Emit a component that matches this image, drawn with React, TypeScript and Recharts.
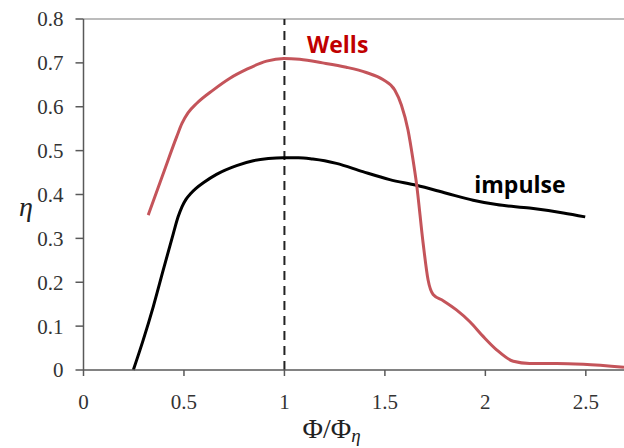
import React from 'react';
import { LineChart, Line, XAxis, YAxis, ReferenceLine, ReferenceDot } from 'recharts';

const xTicks = [0, 0.5, 1, 1.5, 2, 2.5];
const yTicks = [0, 0.1, 0.2, 0.3, 0.4, 0.5, 0.6, 0.7, 0.8];

const wellsPhi = [0.322, 0.397, 0.464, 0.49, 0.52, 0.564, 0.645, 0.729, 0.811, 0.911, 0.997, 1.076, 1.19, 1.308, 1.407, 1.49, 1.549, 1.582, 1.615, 1.64, 1.657, 1.69, 1.715, 1.74, 1.79, 1.856, 1.923, 1.99, 2.056, 2.139, 2.22, 2.355, 2.488, 2.69];
const wellsEta = [0.353, 0.448, 0.532, 0.562, 0.586, 0.608, 0.638, 0.665, 0.685, 0.704, 0.71, 0.708, 0.7, 0.69, 0.678, 0.662, 0.638, 0.604, 0.547, 0.479, 0.426, 0.29, 0.205, 0.172, 0.158, 0.137, 0.11, 0.076, 0.046, 0.02, 0.015, 0.015, 0.013, 0.006];

const impulsePhi = [0.248, 0.297, 0.347, 0.397, 0.447, 0.47, 0.49, 0.51, 0.535, 0.56, 0.6, 0.662, 0.762, 0.845, 0.92, 0.994, 1.07, 1.141, 1.2, 1.259, 1.39, 1.524, 1.657, 1.806, 1.939, 2.056, 2.22, 2.388, 2.497];
const impulseEta = [0.0, 0.068, 0.144, 0.228, 0.311, 0.348, 0.372, 0.389, 0.403, 0.414, 0.428, 0.446, 0.466, 0.477, 0.482, 0.484, 0.484, 0.481, 0.477, 0.471, 0.452, 0.434, 0.421, 0.403, 0.387, 0.377, 0.369, 0.358, 0.349];

const wellsData = wellsPhi.map((x, i) => ({ x, y: wellsEta[i] }));
const impulseData = impulsePhi.map((x, i) => ({ x, y: impulseEta[i] }));

const serif = '"Liberation Serif", "Times New Roman", serif';
const sans = '"Open Sans", "Liberation Sans", sans-serif';

const XTitle = (props: any) => {
  const vb = props.viewBox || {};
  const x0 = vb.x + 219;
  const yb = vb.y + 68;
  return (
    <text x={x0} y={yb} fontFamily={serif} fontSize={28} fill="#222">
      <tspan>Φ/Φ</tspan>
      <tspan fontStyle="italic" fontSize={19} dy={4}>η</tspan>
    </text>
  );
};

const YTitle = () => (
  <text x={19} y={216} fontFamily={serif} fontSize={28} fontStyle="italic" fill="#222">η</text>
);

const makeText = (txt: string, color: string) => (props: any) => {
  const vb = props.viewBox || {};
  return (
    <text x={vb.x} y={vb.y} textAnchor="middle" fontFamily={sans} fontWeight="bold" fontSize={23} fill={color}>
      {txt}
    </text>
  );
};

const tickStyle = { fontFamily: serif, fontSize: 21, fill: '#333' };

export default function App() {
  return (
    <div style={{ position: 'absolute', left: 0, top: 0 }}>
      <LineChart width={624} height={448} margin={{ top: 19, right: 0, bottom: 0, left: 0 }}>
        <XAxis
          type="number"
          dataKey="x"
          domain={[0, 2.69]}
          ticks={xTicks}
          allowDataOverflow
          height={78}
          tickSize={6}
          tickMargin={18}
          stroke="#595959"
          strokeWidth={1.5}
          tick={tickStyle}
          label={{ content: XTitle }}
        />
        <YAxis
          type="number"
          dataKey="y"
          domain={[0, 0.8]}
          ticks={yTicks}
          width={83.5}
          tickSize={8}
          tickMargin={12}
          stroke="#595959"
          strokeWidth={1.5}
          tick={tickStyle}
          label={{ content: YTitle }}
        />
        <ReferenceLine y={0.8} stroke="#a6a6a6" strokeWidth={1.5} />
        <ReferenceLine x={1} stroke="#222" strokeWidth={2} strokeDasharray="9 6" />
        <Line
          data={impulseData}
          dataKey="y"
          type="monotone"
          stroke="#000"
          strokeWidth={3}
          dot={false}
          isAnimationActive={false}
        />
        <Line
          data={wellsData}
          dataKey="y"
          type="monotone"
          stroke="#c4545a"
          strokeWidth={3}
          dot={false}
          isAnimationActive={false}
        />
        <ReferenceDot x={1.265} y={0.723} r={0} stroke="none" fill="none" label={{ content: makeText('Wells', '#c00000') }} />
        <ReferenceDot x={2.172} y={0.403} r={0} stroke="none" fill="none" label={{ content: makeText('impulse', '#000') }} />
      </LineChart>
    </div>
  );
}
